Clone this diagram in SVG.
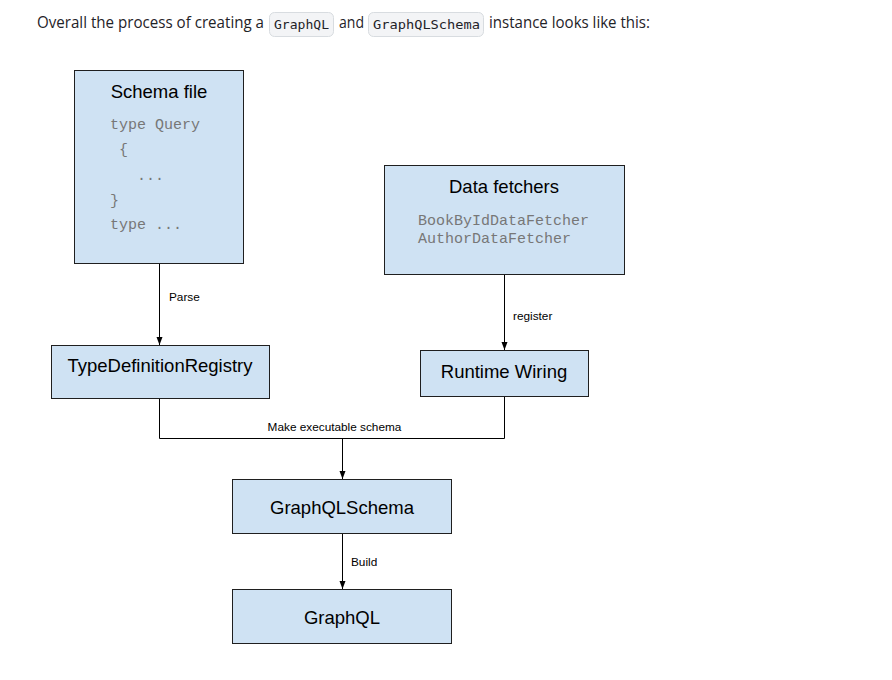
<svg xmlns="http://www.w3.org/2000/svg" width="892" height="680" viewBox="0 0 892 680">
<defs>
<style>
.node{fill:#cfe2f3;stroke:#1f1f1f;stroke-width:1}
.title{font-family:"Liberation Sans",Arial,sans-serif;font-size:18.5px;fill:#000;text-anchor:middle}
.code{font-family:"Liberation Mono","Courier New",monospace;font-size:15px;fill:#777;white-space:pre}
.conn{fill:none;stroke:#000;stroke-width:1}
.lbl{font-family:"Liberation Sans",Arial,sans-serif;font-size:11.8px;fill:#000}
.hdr{font-family:"Open Sans","Noto Sans",sans-serif;font-size:16px;fill:#1f2328}
.kbd{fill:#f3f4f6;stroke:#d8dce0;stroke-width:1}
.kbdt{font-family:"DejaVu Sans Mono","Liberation Mono",monospace;font-size:12.5px;fill:#1f2328}
</style>
<marker id="arr" viewBox="0 0 8 8" refX="8" refY="4" markerWidth="8" markerHeight="8" markerUnits="userSpaceOnUse" orient="auto">
<path d="M0,1 L8,4 L0,7 Z" fill="#000"/>
</marker>
</defs>
<rect width="892" height="680" fill="#fff"/>
<g id="header">
<text class="hdr" x="37" y="28" textLength="227" lengthAdjust="spacingAndGlyphs">Overall the process of creating a</text>
<rect class="kbd" x="269.5" y="12.5" width="64" height="24" rx="5"/>
<text class="kbdt" x="274" y="28.5" textLength="55" lengthAdjust="spacingAndGlyphs">GraphQL</text>
<text class="hdr" x="339" y="28" textLength="25" lengthAdjust="spacingAndGlyphs">and</text>
<rect class="kbd" x="368.5" y="12.5" width="115" height="24" rx="5"/>
<text class="kbdt" x="373" y="28.5" textLength="107" lengthAdjust="spacingAndGlyphs">GraphQLSchema</text>
<text class="hdr" x="489" y="28" textLength="161" lengthAdjust="spacingAndGlyphs">instance looks like this:</text>
</g>
<g id="connectors">
<line class="conn" x1="159.5" y1="263" x2="159.5" y2="345" marker-end="url(#arr)"/>
<text class="lbl" x="169" y="301">Parse</text>
<line class="conn" x1="504.5" y1="274" x2="504.5" y2="350" marker-end="url(#arr)"/>
<text class="lbl" x="513" y="320">register</text>
<polyline class="conn" points="159.5,398 159.5,438.5 504.5,438.5 504.5,396"/>
<text class="lbl" x="334.5" y="431" text-anchor="middle">Make executable schema</text>
<line class="conn" x1="342.5" y1="438.5" x2="342.5" y2="479" marker-end="url(#arr)"/>
<line class="conn" x1="342.5" y1="533" x2="342.5" y2="589" marker-end="url(#arr)"/>
<text class="lbl" x="351" y="566">Build</text>
</g>
<g id="schema-file">
<rect class="node" x="74.5" y="70.5" width="169" height="193"/>
<text class="title" x="159" y="98">Schema file</text>
<text class="code" x="110" y="129">type Query</text>
<text class="code" x="119" y="154">{</text>
<text class="code" x="137" y="180">...</text>
<text class="code" x="110" y="205">}</text>
<text class="code" x="110" y="229">type ...</text>
</g>
<g id="data-fetchers">
<rect class="node" x="384.5" y="165.5" width="240" height="109"/>
<text class="title" x="504" y="193">Data fetchers</text>
<text class="code" x="418" y="225">BookByIdDataFetcher</text>
<text class="code" x="418" y="243">AuthorDataFetcher</text>
</g>
<g id="type-definition-registry">
<rect class="node" x="51.5" y="345.5" width="218" height="53"/>
<text class="title" x="160" y="372">TypeDefinitionRegistry</text>
</g>
<g id="runtime-wiring">
<rect class="node" x="420.5" y="350.5" width="168" height="46"/>
<text class="title" x="504" y="378">Runtime Wiring</text>
</g>
<g id="graphql-schema">
<rect class="node" x="232.5" y="479.5" width="219" height="54"/>
<text class="title" x="342" y="514">GraphQLSchema</text>
</g>
<g id="graphql">
<rect class="node" x="232.5" y="589.5" width="219" height="54"/>
<text class="title" x="342" y="624">GraphQL</text>
</g>
</svg>
